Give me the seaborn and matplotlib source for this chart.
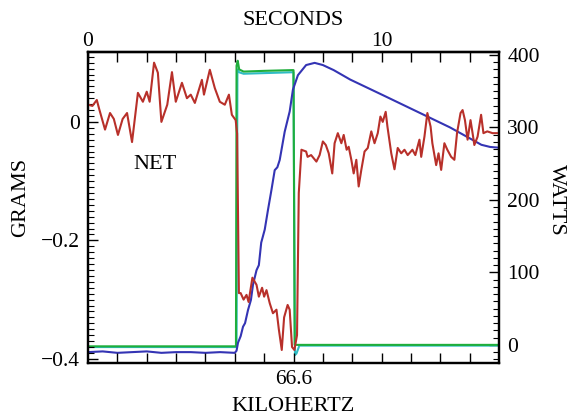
import matplotlib
matplotlib.use("Agg")
import matplotlib.pyplot as plt
import numpy as np
import pandas as pd
import seaborn as sns
from matplotlib.ticker import MultipleLocator

# ---------------- data ----------------
# NET force, grams (left axis) vs time in seconds
net_t = [0, 0.15, 0.3, 0.38, 0.58, 0.75, 0.88, 1.02, 1.18, 1.33, 1.5, 1.7, 1.87,
         2.0, 2.1, 2.25, 2.38, 2.5, 2.7, 2.86, 2.99, 3.2, 3.37, 3.5, 3.64, 3.88,
         3.95, 4.15, 4.32, 4.49, 4.66, 4.8, 4.9, 5.03, 5.08, 5.14, 5.2, 5.3, 5.4,
         5.47, 5.6, 5.74, 5.82, 5.93, 6.0, 6.08, 6.19, 6.3, 6.42, 6.5, 6.6, 6.68,
         6.8, 6.87, 6.95, 7.03, 7.12, 7.18, 7.27, 7.43, 7.48, 7.6, 7.78, 7.89, 8.0,
         8.1, 8.2, 8.32, 8.4, 8.51, 8.63, 8.71, 8.81, 8.88, 8.97, 9.05, 9.14, 9.22,
         9.31, 9.42, 9.53, 9.65, 9.76, 9.87, 9.96, 10.04, 10.14, 10.2, 10.33, 10.44,
         10.55, 10.67, 10.78, 10.89, 11.05, 11.15, 11.29, 11.35, 11.46, 11.56,
         11.67, 11.73, 11.86, 11.94, 12.03, 12.14, 12.24, 12.37, 12.48, 12.57,
         12.69, 12.76, 12.84, 12.93, 13.03, 13.1, 13.16, 13.27, 13.39, 13.47, 13.6,
         13.78, 14.0]
net_g = [0.029, 0.027, 0.037, 0.022, -0.013, 0.015, 0.005, -0.022, 0.005, 0.015,
         -0.034, 0.049, 0.034, 0.051, 0.034, 0.1, 0.083, 0.0, 0.029, 0.084, 0.034,
         0.066, 0.04, 0.046, 0.032, 0.071, 0.046, 0.088, 0.057, 0.034, 0.029, 0.046,
         0.012, 0.003, -0.02, -0.289, -0.289, -0.30, -0.292, -0.304, -0.263, -0.275,
         -0.295, -0.28, -0.295, -0.284, -0.306, -0.323, -0.317, -0.35, -0.385,
         -0.33, -0.309, -0.317, -0.38, -0.385, -0.36, -0.12, -0.047, -0.05, -0.059,
         -0.056, -0.067, -0.056, -0.033, -0.039, -0.053, -0.087, -0.036, -0.019,
         -0.036, -0.022, -0.047, -0.042, -0.064, -0.087, -0.064, -0.109, -0.081,
         -0.05, -0.044, -0.016, -0.036, -0.019, 0.009, 0.0, 0.017, -0.008, -0.053,
         -0.08, -0.044, -0.053, -0.047, -0.056, -0.047, -0.056, -0.03, -0.059,
         -0.025, 0.015, -0.008, -0.036, -0.073, -0.053, -0.081, -0.036, -0.047,
         -0.059, -0.064, -0.019, 0.015, 0.02, 0.003, -0.03, 0.003, -0.019, -0.039,
         -0.025, 0.012, -0.019, -0.016, -0.019, -0.019]

# blue trace, watts (right axis)
blue_t = [0, 0.5, 1.0, 1.5, 2.0, 2.5, 3.0, 3.5, 4.0, 4.5, 5.0, 5.06, 5.11, 5.2,
          5.28, 5.35, 5.45, 5.55, 5.62, 5.74, 5.82, 5.9, 6.02, 6.13, 6.25, 6.36,
          6.45, 6.53, 6.7, 6.87, 6.98, 7.15, 7.43, 7.72, 8.0, 8.37, 8.93, 10.07,
          11.2, 12.33, 13.0, 13.4, 13.7, 14.0]
blue_w = [-10, -9, -11, -10, -9, -11, -10, -10, -11, -10, -11, -8, 3, 12, 25, 30,
          48, 62, 83, 103, 110, 141, 159, 186, 214, 241, 245, 255, 294, 322, 352,
          372, 386, 389, 386, 379, 366, 344, 322, 300, 285, 276, 273, 272]

# green power trace, watts
green_t = [0, 5.04, 5.06, 5.1, 5.15, 5.3, 6.0, 6.95, 7.0, 7.04, 7.1, 14.0]
green_w = [-2, -2, 385, 392, 380, 377, 378, 379, 379, 0, 0, 0]

# cyan power trace, watts
cyan_t = [0, 5.06, 5.09, 5.15, 5.3, 6.9, 7.0, 7.05, 7.1, 7.2, 14.0]
cyan_w = [-3, -3, 380, 376, 374, 376, 376, -14, -12, -1, -1]

top_ticks = list(range(0, 14))
top_labels = ["0" if t == 0 else ("10" if t == 10 else "") for t in top_ticks]
bottom_ticks = list(range(1, 14))
bottom_labels = ["66.6" if t == 7 else "" for t in bottom_ticks]
gram_ticks = [-0.4, -0.2, 0]
gram_labels = ["\u22120.4", "\u22120.2", "0"]
watt_ticks = [0, 100, 200, 300, 400]

# ---------------- style ----------------
sns.set_theme(style="white")
plt.rcParams["font.family"] = ["Liberation Serif", "DejaVu Serif"]
plt.rcParams["axes.unicode_minus"] = True

fig = plt.figure(figsize=(5.68, 4.15), dpi=100)
ax = fig.add_axes([88 / 568, 1 - 363 / 415, 411 / 568, 311 / 415])
ax2 = ax.twinx()

RED = "#b8302a"
BLUE = "#3434b4"
GREEN = "#1fae3c"
CYAN = "#2fbcc4"
LW = 1.5

sns.lineplot(x=cyan_t, y=cyan_w, ax=ax2, color=CYAN, linewidth=LW,
             estimator=None, sort=False)
sns.lineplot(x=green_t, y=green_w, ax=ax2, color=GREEN, linewidth=LW,
             estimator=None, sort=False)
sns.lineplot(x=blue_t, y=blue_w, ax=ax2, color=BLUE, linewidth=LW,
             estimator=None, sort=False)
sns.lineplot(x=net_t, y=net_g, ax=ax, color=RED, linewidth=LW,
             estimator=None, sort=False)

ax.set_zorder(ax2.get_zorder() + 1)
ax.patch.set_visible(False)

ax.set_xlim(0, 14)
ax.set_ylim(-0.407, 0.118)
ax2.set_ylim(-25, 404)

FS_T = 15.5
FS_L = 16

# left axis
ax.set_yticks(gram_ticks)
ax.set_yticklabels(gram_labels)
ax.yaxis.set_minor_locator(MultipleLocator(0.01))
# right axis
ax2.set_yticks(watt_ticks)
ax2.set_yticklabels([str(w) for w in watt_ticks])
ax2.yaxis.set_minor_locator(MultipleLocator(10))
# bottom axis
ax.set_xticks(bottom_ticks)
ax.set_xticklabels(bottom_labels)
# top axis
secax = ax.secondary_xaxis("top")
secax.set_xticks(top_ticks)
secax.set_xticklabels(top_labels)

ax.tick_params(axis="both", which="major", direction="in", length=7.5, width=1,
               color="black", labelsize=FS_T, labelcolor="black")
ax.tick_params(axis="y", which="minor", direction="in", length=4, width=0.8,
               color="black", left=True)
ax.tick_params(axis="y", which="major", pad=6, left=True, right=False)
ax.tick_params(axis="x", which="major", pad=5, bottom=True, top=False)
ax2.tick_params(axis="y", which="major", direction="in", length=7.5, width=1,
                color="black", labelsize=FS_T, labelcolor="black", pad=6, right=True)
ax2.tick_params(axis="y", which="minor", direction="in", length=4, width=0.8,
                color="black", right=True)
secax.tick_params(axis="x", which="major", direction="in", length=7.5, width=1,
                  color="black", labelsize=FS_T, labelcolor="black", pad=1)

for a in (ax, ax2):
    for s in a.spines.values():
        s.set_color("black")
        s.set_linewidth(1.6)
for s in secax.spines.values():
    s.set_color("black")
    s.set_linewidth(1.6)

ax.set_xlabel("KILOHERTZ", fontsize=FS_L, color="black", va="center")
ax.xaxis.set_label_coords(0.5, -0.14)
secax.set_xlabel("SECONDS", fontsize=FS_L, color="black", labelpad=4.5)
ax.set_ylabel("GRAMS", fontsize=FS_L, color="black", va="center")
ax.yaxis.set_label_coords(-0.164, 0.531)
ax2.set_ylabel("WATTS", fontsize=FS_L, color="black", rotation=-90, va="center")
ax2.yaxis.set_label_coords(1.141, 0.524)

ax.text(2.28, -0.0726, "NET", fontsize=FS_L, color="black", ha="center", va="center")

fig.savefig("out.png", dpi=100)
